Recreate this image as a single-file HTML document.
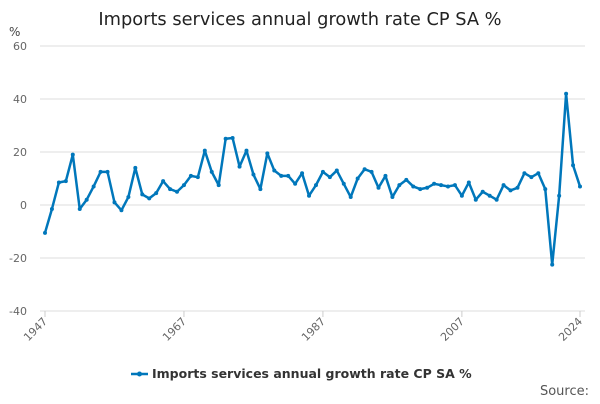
<!DOCTYPE html>
<html><head><meta charset="utf-8"><style>
body{margin:0;background:#fff;font-family:"DejaVu Sans",sans-serif}
svg text{font-family:"DejaVu Sans",sans-serif}
</style></head><body>
<svg id="chart" width="600" height="400" xmlns="http://www.w3.org/2000/svg">
<text x="300" y="25" text-anchor="middle" font-size="17.8" fill="#222">Imports services annual growth rate CP SA %</text>
<text x="9" y="36" font-size="12" fill="#444">%</text>
<g id="grid"></g><g id="xaxis"></g><g id="series"></g>
<g>
<line x1="131" y1="374" x2="148" y2="374" stroke="#0077bb" stroke-width="2.5"/>
<circle cx="139.5" cy="374" r="2.5" fill="#0077bb"/>
<text x="152" y="378" font-size="12.5" font-weight="bold" fill="#333">Imports services annual growth rate CP SA %</text>
</g>
<text x="589" y="395" text-anchor="end" font-size="13" fill="#555">Source:</text>
</svg>
<script>
const years=[];for(let y=1947;y<=2024;y++)years.push(y);
const values=[-10.5,-1.5,8.5,9,19,-1.5,2,7,12.5,12.5,1,-2,3,14,4,2.5,4.5,9,6,5,7.5,11,10.5,20.5,12.5,7.5,25,25.3,14.5,20.5,11.5,6,19.5,13,11,11,8,12,3.5,7.5,12.5,10.5,13,8,3,10,13.5,12.5,6.5,11,3,7.5,9.5,7,6,6.5,8,7.5,7,7.5,3.5,8.5,2,5,3.5,2,7.5,5.5,6.5,12,10.5,12,6,-22.5,3.5,42,15,7];
const yTicks=[60,40,20,0,-20,-40];
const xTicks=[1947,1967,1987,2007,2024];
const ns="http://www.w3.org/2000/svg";
const X=y=>45+(y-1947)*(535/77);
const Y=v=>205-v*(265/100);
function mk(t,a,p){const e=document.createElementNS(ns,t);for(const k in a)e.setAttribute(k,a[k]);p.appendChild(e);return e;}
const g=document.getElementById('grid'),xa=document.getElementById('xaxis'),s=document.getElementById('series');
yTicks.forEach(v=>{
const l=mk('line',{x1:40,x2:585,y1:Y(v),y2:Y(v),stroke:'#ddd','stroke-width':1},g);


const t=mk('text',{x:27,y:Y(v)+4,'text-anchor':'end','font-size':11,fill:'#666'},g);t.textContent=v;


});
xTicks.forEach(y=>{
const l=mk('line',{x1:X(y),x2:X(y),y1:311,y2:317,stroke:'#ccc'},xa);


const t=mk('text',{x:X(y)+3,y:322,'text-anchor':'end','font-size':11,fill:'#666',transform:`rotate(-45 ${X(y)+3} 322)`},xa);t.textContent=y;


});
const p=mk('polyline',{points:values.map((v,i)=>X(years[i])+','+Y(v)).join(' '),fill:'none',stroke:'#0077bb','stroke-width':2.5,'stroke-linejoin':'round'},s);


values.forEach((v,i)=>{const c=mk('circle',{cx:X(years[i]),cy:Y(v),r:2,fill:'#0077bb'},s);

});
</script>
</body></html>
